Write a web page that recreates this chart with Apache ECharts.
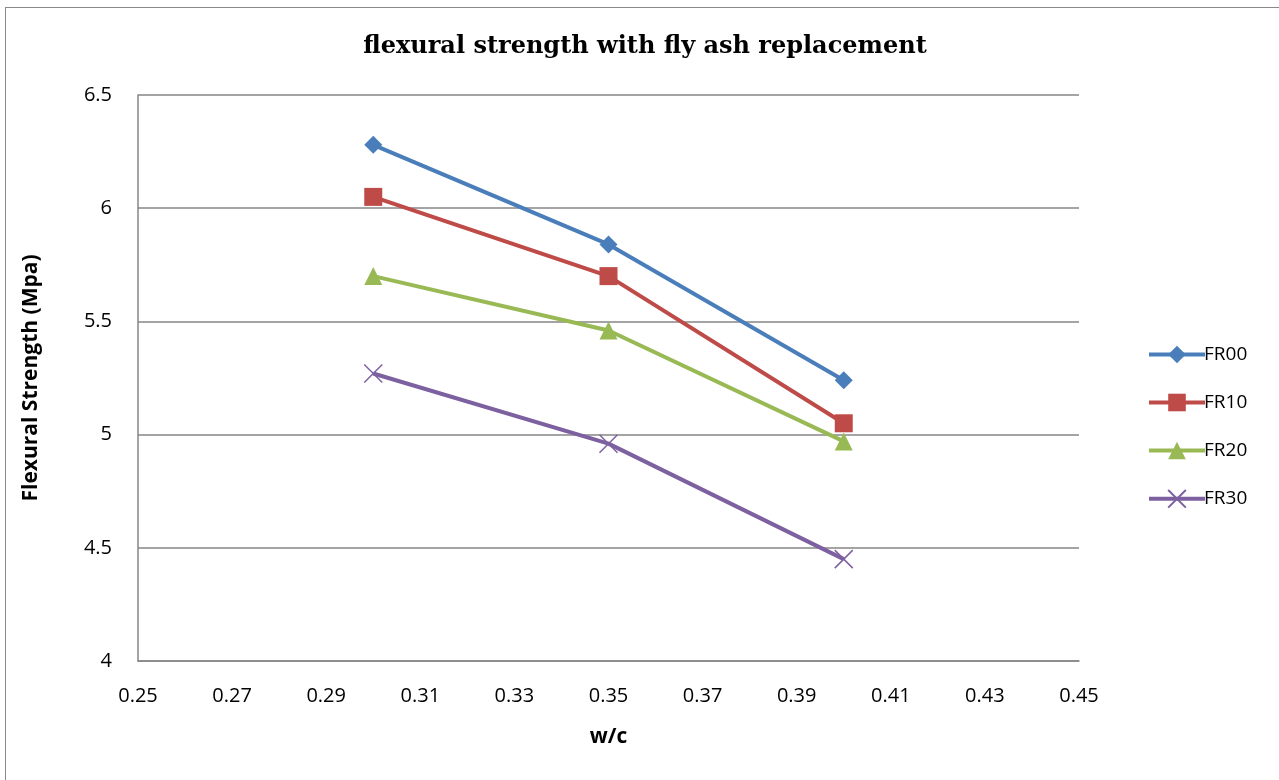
<!DOCTYPE html>
<html lang="en">
<head>
    <meta charset="UTF-8">
    <title>flexural strength with fly ash replacement</title>
    <style>
        body { margin: 0; overflow: hidden; background: #fff; }
        #frame { position: absolute; left: 5px; top: 7px; width: 1290px; height: 790px; border: 1.5px solid #898989; box-sizing: border-box; }
        #chart { position: absolute; left: 0; top: 0; width: 1279px; height: 780px; }
    </style>
</head>
<body>
<div id="frame"></div>
<div id="chart"></div>
<script src="https://cdn.jsdelivr.net/npm/echarts@6.0.0/dist/echarts.min.js"></script>
<script>
var wc = [0.30, 0.35, 0.40];
var seriesNames = ['FR00', 'FR10', 'FR20', 'FR30'];
var fr00 = [6.28, 5.84, 5.24];
var fr10 = [6.05, 5.70, 5.05];
var fr20 = [5.70, 5.46, 4.97];
var fr30 = [5.27, 4.96, 4.45];

var colors = ['#4A7EBB', '#BE4B48', '#98B954', '#7D60A0'];
var symbols = ['diamond', 'rect', 'triangle', 'path://M0,0L10,10M10,0L0,10'];
var sizes = [18, 18, 18, 18];
var values = [fr00, fr10, fr20, fr30];

function pairs(arr) {
    var out = [];
    for (var i = 0; i < wc.length; i++) out.push([wc[i], arr[i]]);
    return out;
}

var series = [];
for (var k = 0; k < seriesNames.length; k++) {
    var s = {
        name: seriesNames[k],
        type: 'line',
        data: pairs(values[k]),
        symbol: symbols[k],
        symbolSize: sizes[k],
        color: colors[k],
        lineStyle: { width: 4, color: colors[k] },
        itemStyle: { color: colors[k] }
    };
    if (k === 3) {
        s.itemStyle = { color: colors[k], borderColor: colors[k], borderWidth: 1.5 };
    }
    series.push(s);
}

var chart = echarts.init(document.getElementById('chart'));
chart.setOption({
    animation: false,
    title: {
        text: 'flexural strength with fly ash replacement',
        left: 640,
        textAlign: 'center',
        top: 30,
        textStyle: { fontFamily: 'DejaVu Serif', fontWeight: 'bold', fontSize: 24, color: '#000' }
    },
    legend: {
        orient: 'vertical',
        left: 1142,
        top: 340,
        itemWidth: 56,
        itemHeight: 22,
        itemGap: 29,
        lineStyle: { width: 4 },
        textStyle: { fontFamily: 'Open Sans', fontSize: 19, color: '#000', padding: [0, 0, 0, -6] },
        data: seriesNames
    },
    grid: { left: 138, right: 200, top: 95, bottom: 119 },
    xAxis: {
        type: 'value',
        min: 0.25,
        max: 0.45,
        interval: 0.02,
        name: 'w/c',
        nameLocation: 'middle',
        nameGap: 66,
        nameTextStyle: { fontFamily: 'Open Sans', fontWeight: 'bold', fontSize: 21, color: '#000' },
        axisLine: { lineStyle: { color: '#868686', width: 1.5 } },
        axisTick: { show: false },
        splitLine: { show: false },
        axisLabel: {
            margin: 25,
            fontFamily: 'Open Sans', fontSize: 20, color: '#000',
            formatter: function (v) { return v.toFixed(2); }
        }
    },
    yAxis: {
        type: 'value',
        min: 4,
        max: 6.5,
        interval: 0.5,
        name: 'Flexural Strength (Mpa)',
        nameLocation: 'middle',
        nameGap: 96,
        nameTextStyle: { fontFamily: 'Open Sans', fontWeight: 'bold', fontSize: 21, color: '#000' },
        axisLine: { show: true, lineStyle: { color: '#868686', width: 1.5 } },
        axisTick: { show: false },
        splitLine: { lineStyle: { color: '#868686', width: 1.5 } },
        axisLabel: { margin: 26, fontFamily: 'Open Sans', fontSize: 20, color: '#000' }
    },
    series: series
});
</script>
</body>
</html>
